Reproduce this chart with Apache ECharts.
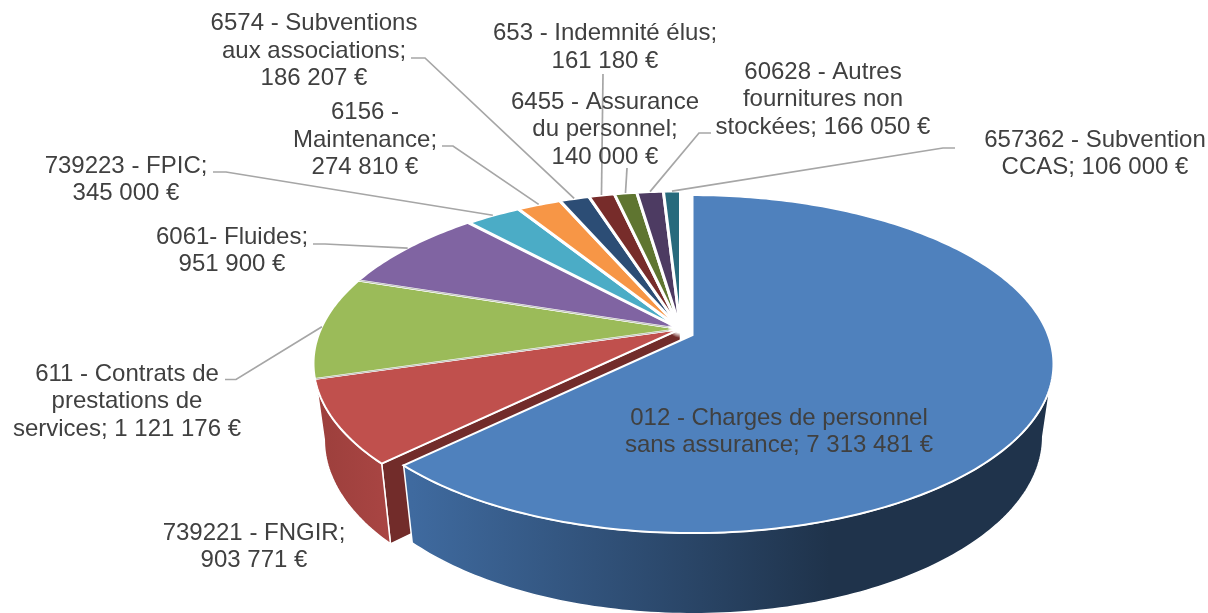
<!DOCTYPE html>
<html>
<head>
<meta charset="utf-8">
<style>
  html, body { margin: 0; padding: 0; background: #fff; }
  #main { width: 1208px; height: 613px; }
</style>
</head>
<body>
<div id="main"></div>
<script src="https://cdn.jsdelivr.net/npm/echarts@6/dist/echarts.min.js"></script>
<script>
// chart data
var categories = ['012 - Charges de personnel sans assurance', '739221 - FNGIR', '611 - Contrats de prestations de services', '6061- Fluides', '739223 - FPIC', '6156 - Maintenance', '6574 - Subventions aux associations', '653 - Indemnité élus', '6455 - Assurance du personnel', '60628 - Autres fournitures non stockées', '657362 - Subvention CCAS'];
var values = [7313481, 903771, 1121176, 951900, 345000, 274810, 186207, 161180, 140000, 166050, 106000];
var labelTexts = [
    '012 - Charges de personnel\nsans assurance; 7 313 481 €',
    '739221 - FNGIR;\n903 771 €',
    '611 - Contrats de\nprestations de\nservices; 1 121 176 €',
    '6061- Fluides;\n951 900 €',
    '739223 - FPIC;\n345 000 €',
    '6156 -\nMaintenance;\n274 810 €',
    '6574 - Subventions\naux associations;\n186 207 €',
    '653 - Indemnité élus;\n161 180 €',
    '6455 - Assurance\ndu personnel;\n140 000 €',
    '60628 - Autres\nfournitures non\nstockées; 166 050 €',
    '657362 - Subvention\nCCAS; 106 000 €'
];

// colours and layout
var topColors = ['#4f81bd', '#c0504d', '#9bbb59', '#8064a2', '#4bacc6', '#f79646', '#2c4d75', '#772c2a', '#5f7530', '#4d3b62', '#276a7c'];
var labelPos = [[779, 432], [254, 547], [127, 401.5], [232, 251], [126, 180], [365, 140], [314, 51], [605, 47.5], [605, 129.5], [823, 99.5], [1095, 154]];
// start of each leader: text end, then the knee
var leaderStart = [null, null, [[225, 379.5], [236, 379.5]], [[313, 244], [325, 244]], [[213, 172], [226, 172]], [[442, 146], [453, 146]], [[411, 58], [425, 58]], [[603, 74]], [[627, 168]], [[711, 133], [699, 133]], [[955, 148], [943, 148]]];

// the big slice is pulled out, so it has its own projection
var blueView = {cx: 692.5, cy: 335, R: 355.6, B: 164, k: 0.172, cx2: 692.5, cy2: 406, R2: 345, B2: 172};
var restView = {cx: 680.5, cy: 329, R: 359.6, B: 165.6, k: 0.2, cx2: 680.5, cy2: 404, R2: 349, B2: 172};

var total = values.reduce(function (a, b) { return a + b; }, 0);
var starts = [];
var sum = 0;
for (var n = 0; n < values.length; n++) {
    starts.push(sum / total * 360);
    sum += values[n];
}

function top3d(view, deg) {
    var a = deg * Math.PI / 180, u = Math.sin(a), v = -Math.cos(a), s = 1 / (1 - view.k * v);
    return [view.cx + view.R * u * s, view.cy + view.B * v * s];
}
function bottom3d(view, deg) {
    var a = deg * Math.PI / 180, u = Math.sin(a), v = -Math.cos(a), s = 1 / (1 - view.k * v);
    return [view.cx2 + view.R2 * u * s, view.cy2 + view.B2 * v * s];
}
function arc(fn, view, from, to) {
    var pts = [];
    var steps = Math.max(2, Math.ceil(Math.abs(to - from)));
    for (var i = 0; i <= steps; i++) {
        pts.push(fn(view, from + (to - from) * i / steps));
    }
    return pts;
}
function hGradient(x, x2, stops) {
    return {type: 'linear', x: x, y: 0, x2: x2, y2: 0, global: true, colorStops: stops};
}
function wall(view, from, to, fill, z2) {
    return {
        type: 'polygon',
        z2: z2,
        shape: {points: arc(top3d, view, from, to).concat(arc(bottom3d, view, to, from))},
        style: {fill: fill, stroke: '#fff', lineWidth: 1.5}
    };
}

function renderSlice(params, api) {
    var i = params.dataIndex;
    var from = starts[i];
    var to = from + api.value(0) / total * 360;
    var view = i === 0 ? blueView : restView;
    var kids = [];

    if (i === 0) {
        kids.push(wall(view, 100, to, hGradient(412, 1045, [
            {offset: 0, color: '#3f6a9f'},
            {offset: 0.66, color: '#1f334b'},
            {offset: 1, color: '#1f334b'}
        ]), 2));
        // the small slices fade out before they reach the centre
        kids.push({
            type: 'circle',
            z2: 6.5,
            shape: {cx: 680, cy: 325, r: 13},
            style: {fill: {type: 'radial', x: 0.5, y: 0.5, r: 0.5, colorStops: [
                {offset: 0, color: 'rgba(255,255,255,1)'},
                {offset: 0.6, color: 'rgba(255,255,255,1)'},
                {offset: 1, color: 'rgba(255,255,255,0)'}
            ]}}
        });
    }
    if (i === 1) {
        // face towards the gap, then the outer side
        var o = top3d(view, from), b = bottom3d(view, from);
        kids.push({
            type: 'polygon',
            z2: 1,
            shape: {points: [[view.cx, view.cy], o, b, [view.cx2, view.cy2]]},
            style: {fill: '#722c2a', stroke: '#fff', lineWidth: 1.5}
        });
        kids.push(wall(view, from, 258.5, hGradient(316, 390, [
            {offset: 0, color: '#9c3f3c'},
            {offset: 1, color: '#a94543'}
        ]), 2));
    }

    kids.push({
        type: 'polygon',
        z2: 5,
        shape: {points: [[view.cx, view.cy]].concat(arc(top3d, view, from, to))},
        style: {fill: topColors[i], stroke: '#fff', lineWidth: i > 3 ? 3 : 2}
    });

    // thin grey seams along the green slice
    if (i === 2 || i === 3) {
        var edge = top3d(view, from);
        kids.push({
            type: 'line',
            z2: 6,
            shape: {x1: view.cx - 12, y1: view.cy + (edge[1] - view.cy) * 12 / (view.cx - edge[0]), x2: edge[0] + 1, y2: edge[1]},
            style: {stroke: '#a9afa5', lineWidth: 0.8}
        });
    }

    if (leaderStart[i]) {
        var mid = top3d(view, (from + to) / 2);
        kids.push({
            type: 'polyline',
            z2: 7,
            shape: {points: leaderStart[i].concat([mid])},
            style: {stroke: '#a6a6a6', lineWidth: 1.7, fill: null}
        });
    }

    kids.push({
        type: 'text',
        z2: 8,
        style: {
            text: labelTexts[i],
            x: labelPos[i][0],
            y: labelPos[i][1],
            align: 'center',
            verticalAlign: 'middle',
            fontFamily: '"Liberation Sans", Arial, sans-serif',
            fontSize: 24,
            lineHeight: 27.6,
            fill: '#404040'
        }
    });

    return {type: 'group', children: kids};
}

var chart = echarts.init(document.getElementById('main'));
var option = {
    backgroundColor: '#fff',
    animation: false,
    xAxis: {show: false},
    yAxis: {show: false},
    series: [{
        type: 'custom',
        coordinateSystem: 'none',
        name: 'Charges',
        silent: true,
        clip: false,
        data: values.map(function (v, i) { return {name: categories[i], value: [v]}; }),
        renderItem: renderSlice
    }]
};
chart.setOption(option);
</script>
</body>
</html>
